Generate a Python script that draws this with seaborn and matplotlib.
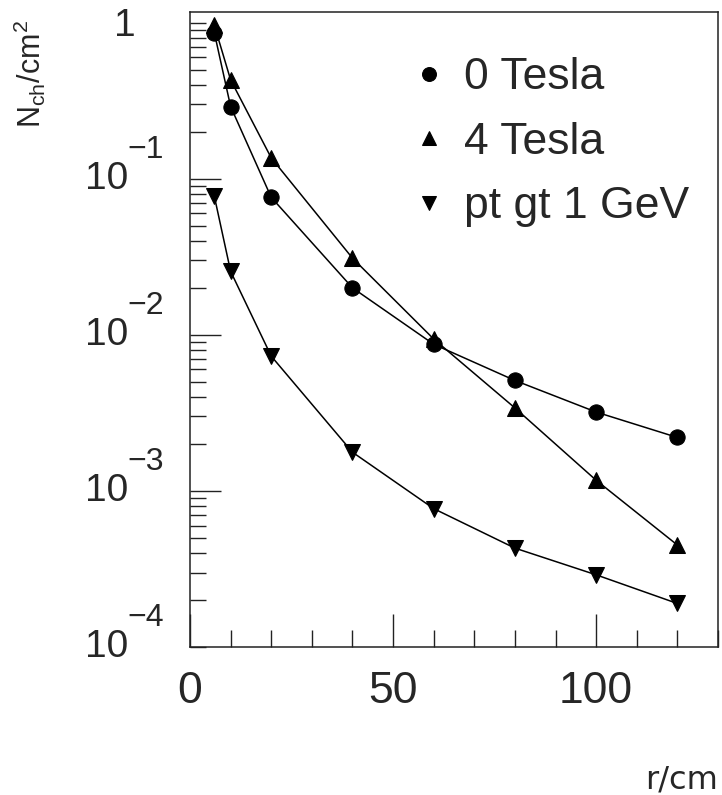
import numpy as np
import pandas as pd
import seaborn as sns
from matplotlib import pyplot as plt
from matplotlib.ticker import FixedLocator, LogLocator, MultipleLocator, NullFormatter

# charged particle density vs radius
r = [6, 10, 20, 40, 60, 80, 100, 120]
tesla0 = [0.86, 0.29, 0.076, 0.020, 0.0087, 0.0051, 0.0032, 0.0022]
tesla4 = [0.96, 0.43, 0.136, 0.031, 0.0094, 0.0034, 0.00117, 0.00045]
pt1gev = [0.077, 0.0255, 0.0073, 0.00177, 0.00077, 0.00043, 0.00029, 0.00019]
names = ['0 Tesla', '4 Tesla', 'pt gt 1 GeV']
marks = ['o', '^', 'v']
xticks = [0, 50, 100]
decades = [0, -1, -2, -3, -4]

df = pd.DataFrame({'r': r * 3,
                   'n': tesla0 + tesla4 + pt1gev,
                   'series': np.repeat(names, len(r))})

sns.set_style('ticks')
plt.rcParams['font.family'] = ['Liberation Sans', 'DejaVu Sans']

fig = plt.figure(figsize=(7.22, 7.95), dpi=100)
ax = fig.add_axes([190/722, 1 - 647/795, 528/722, 635/795])
ax.set_yscale('log')

sns.lineplot(data=df, x='r', y='n', style='series', style_order=names,
             markers=dict(zip(names, marks)), dashes=False, color='black',
             markersize=11, markeredgecolor='black', linewidth=1.1,
             errorbar=None, ax=ax)

ax.set_xlim(0, 130)
ax.set_ylim(1e-4, 1.17)

#%%
# axes, ticks
for s in ax.spines.values():
    s.set_linewidth(1.1)
    s.set_color('#222222')

ax.xaxis.set_major_locator(FixedLocator(xticks))
ax.xaxis.set_minor_locator(MultipleLocator(10))
ax.tick_params(axis='x', which='major', direction='in', length=24, width=1,
               labelsize=32, pad=17, color='#222222')
ax.tick_params(axis='x', which='minor', direction='in', length=12, width=1,
               color='#222222')

ax.yaxis.set_major_locator(FixedLocator([1e-3, 1e-2, 1e-1]))
ax.yaxis.set_minor_locator(LogLocator(base=10, subs=np.arange(1, 10), numticks=30))
ax.yaxis.set_major_formatter(NullFormatter())
ax.yaxis.set_minor_formatter(NullFormatter())
ax.tick_params(axis='y', which='major', direction='in', length=22, width=1,
               color='#222222')
ax.tick_params(axis='y', which='minor', direction='in', length=11.5, width=1,
               color='#222222')

tr = ax.get_yaxis_transform()
for k in decades:
    v = 10.0 ** k
    if k == 0:
        ax.annotate('1', xy=(0, v), xycoords=tr, xytext=(-54, -3),
                    textcoords='offset pixels', ha='right', va='center',
                    fontsize=28, annotation_clip=False)
    else:
        ax.annotate('10', xy=(0, v), xycoords=tr, xytext=(-62, 0),
                    textcoords='offset pixels', ha='right', va='center',
                    fontsize=28, annotation_clip=False)
        ax.annotate('\u2212' + str(-k), xy=(0, v), xycoords=tr, xytext=(-63, 21),
                    textcoords='offset pixels', ha='left', va='baseline',
                    fontsize=23, annotation_clip=False)

ax.set_xlabel('r/cm', fontsize=23, loc='right', family='DejaVu Sans')
ax.xaxis.set_label_coords(1.0, -0.209)
ax.xaxis.label.set_va('center')

ax.set_ylabel(r'N$_{\mathregular{ch}}$/cm$^{\mathregular{2}}$', fontsize=22, loc='top')
ax.yaxis.set_label_coords(-0.303, 0.987)
ax.yaxis.label.set_va('center')

#%%
# legend, markers only
leg = ax.get_legend()
handles = leg.legend_handles
for h in handles:
    h.set_color('black')
    h.set_markeredgecolor('black')
    h.set_markerfacecolor('black')
    h.set_markersize(10)
    h.set_linestyle('none')
ax.legend(handles, names, loc='upper left', bbox_to_anchor=(0.43, 0.929),
          frameon=False, fontsize=32, handlelength=0.55, handletextpad=0.5,
          labelspacing=0.53, borderaxespad=0, borderpad=0)

fig.savefig('out.png', dpi=100)
